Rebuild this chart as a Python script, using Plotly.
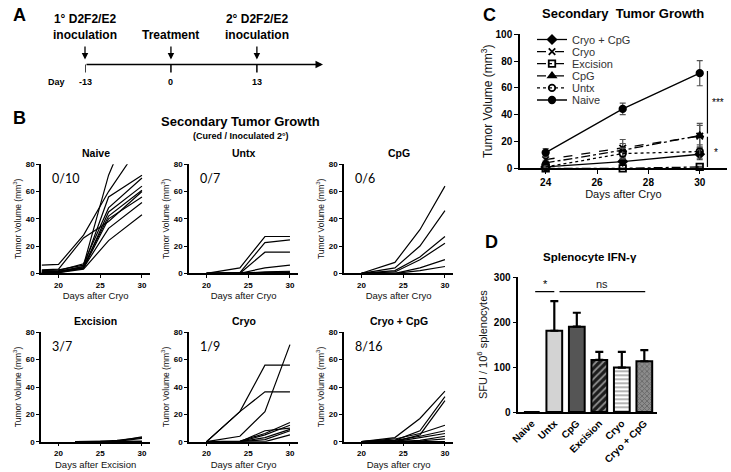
import plotly.graph_objects as go

W, H = 731, 472
FONT = "Liberation Sans"

# ---------------- data ----------------
timeline_days = [-13, 0, 13]
timeline_end = 23
timeline_labels = ["1° D2F2/E2<br>inoculation", "Treatment", "2° D2F2/E2<br>inoculation"]

naive_days = [18, 20, 23, 26, 30]
naive_mice = [
    [6, 6.5, 28, 60, 96],
    [2, 2.5, 6, 72, 130],
    [1, 1.2, 5, 56, 72],
    [1.5, 2, 7, 48, 70],
    [0.5, 1, 4, 45, 64],
    [1, 1.5, 5, 42, 61],
    [0.5, 0.5, 4, 40, 56],
    [2.5, 3, 26, 38, 60],
    [0.5, 1, 4, 33, 52],
    [0.2, 0.5, 3, 24, 43],
]
untx_days = [20, 24, 27, 30]
untx_mice = [
    [0, 4, 27, 27],
    [0, 0.5, 22.5, 24.5],
    [0, 0, 15.5, 15.5],
    [0, 0, 4, 6],
    [0, 0, 1, 1.5],
    [0, 0, 0.5, 1],
    [0, 0, 0, 0.5],
]
cpg_days = [20, 24, 27, 30]
cpg_mice = [
    [0, 8, 32, 64],
    [0, 4, 20, 46],
    [0, 2, 12, 27],
    [0, 1, 10, 22],
    [0, 0, 4, 10],
    [0, 0, 2, 5],
]
excision_days = [22, 25, 27, 30]
excision_mice = [
    [0, 0, 0.5, 3.5],
    [0, 0.2, 1, 3],
    [0, 0, 0.3, 2.5],
    [0, 0, 0, 0.5],
    [0, 0, 0, 0],
    [0, 0, 0, 0],
    [0, 0, 0, 0],
]
cryo_days = [20, 24, 27, 30]
cryo_mice = [
    [0, 22, 56, 56],
    [0, 22, 36.5, 36.5],
    [0, 4, 22, 71],
    [0, 0, 8, 10],
    [0, 0.5, 6, 14],
    [0, 0, 5, 12],
    [0, 0, 3, 9],
    [0, 0, 1.5, 8],
    [0, 0, 0, 5],
]
cryocpg_days = [20, 24, 27, 30]
cryocpg_mice = [
    [0, 3, 17, 37],
    [0, 1, 8, 33],
    [0, 0, 5, 30],
    [0, 2, 6, 12],
    [0, 1, 4, 8],
    [0, 0, 3, 6],
    [0, 0, 1, 4],
    [0, 0, 0.5, 2],
    [0, 0, 0, 0], [0, 0, 0, 0], [0, 0, 0, 0], [0, 0, 0, 0],
    [0, 0, 0, 0], [0, 0, 0, 0], [0, 0, 0, 0], [0, 0, 0, 0],
]
panel_titles = ["Naive", "Untx", "CpG", "Excision", "Cryo", "Cryo + CpG"]
panel_ratios = ["0/10", "0/7", "0/6", "3/7", "1/9", "8/16"]
panel_xtitles = ["Days after Cryo", "Days after Cryo", "Days after Cryo",
                 "Days after Excision", "Days after Cryo", "Days after cryo"]
panel_days = [naive_days, untx_days, cpg_days, excision_days, cryo_days, cryocpg_days]
panel_mice = [naive_mice, untx_mice, cpg_mice, excision_mice, cryo_mice, cryocpg_mice]

# Panel C (mean +/- SEM)
c_days = [24, 27, 30]
c_groups = ["Cryo + CpG", "Cryo", "Excision", "CpG", "Untx", "Naive"]
c_means = [
    [1, 5, 10.5],
    [6.5, 15, 24],
    [0, 0, 1],
    [4, 13.5, 24.5],
    [1, 11, 12.5],
    [11.7, 44.3, 71],
]
c_errs = [
    [1, 2, 4],
    [3, 6.5, 8],
    [0, 0, 0.5],
    [2, 5, 9],
    [0.5, 4, 5],
    [3, 4.3, 9.4],
]
c_symbols = ["diamond", "x-thin", "square-open", "triangle-up", "circle-open", "circle"]
c_dashes = ["solid", "dash", "dashdot", "dashdot", "dot", "solid"]

# Panel D
d_cats = ["Naive", "Untx", "CpG", "Excision", "Cryo", "Cryo + CpG"]
d_vals = [0, 181, 190, 116, 99, 113]
d_errs = [0, 66, 31, 18, 35, 25]


def px_x(p):
    return p / W


def px_y(p):
    return 1 - p / H


def txt(text, x, y, size, bold=False, color="black", family=FONT, **kw):
    d = dict(text=text, xref="paper", yref="paper", x=px_x(x), y=px_y(y),
             xanchor="center", yanchor="middle", showarrow=False,
             font=dict(family=family, size=size, color=color, weight="bold" if bold else "normal"))
    d.update(kw)
    return d


fig = go.Figure()

# ---------------- Panel B small multiples ----------------
col_px = [(41, 150.3), (189, 298.3), (344, 453.3)]
row_px = [(164.3, 273.3), (332.3, 441.7)]
axis_font = dict(family=FONT, size=8, color="black", weight="bold")
annotations = []
shapes = []

for i in range(6):
    n = i + 1
    r, c = divmod(i, 3)
    xs = "" if n == 1 else str(n)
    for m in panel_mice[i]:
        fig.add_trace(go.Scatter(
            x=panel_days[i], y=m, mode="lines",
            line=dict(color="black", width=1.2),
            xaxis="x" + xs, yaxis="y" + xs,
            showlegend=False, hoverinfo="skip"))
    x0, x1 = col_px[c]
    y0, y1 = row_px[r]
    fig.layout["xaxis" + xs] = dict(
        domain=[px_x(x0), px_x(x1)], anchor="y" + xs, range=[17.9, 31], automargin=False,
        tickvals=[20, 25, 30], showline=True, linecolor="black", linewidth=1.5,
        ticks="outside", ticklen=3, tickwidth=1.2, tickcolor="black",
        tickfont=axis_font, showgrid=False, zeroline=False,
        title=dict(text=panel_xtitles[i], font=dict(family=FONT, size=9.5, color="#111"), standoff=4))
    fig.layout["yaxis" + xs] = dict(
        domain=[px_y(y1), px_y(y0)], anchor="x" + xs, range=[0, 80], automargin=False,
        tickvals=[0, 20, 40, 60, 80], showline=True, linecolor="black", linewidth=1.5,
        ticks="outside", ticklen=3, tickwidth=1.2, tickcolor="black",
        tickfont=axis_font, showgrid=False, zeroline=False,
        title=dict(text="Tumor Volume (mm<sup>3</sup>)", font=dict(family=FONT, size=8.5, color="#111"), standoff=3))
    annotations.append(dict(
        text=panel_titles[i], xref="x" + xs + " domain", x=0.5, xanchor="center",
        yref="paper", y=px_y(y0 - 11), yanchor="middle",
        showarrow=False, font=dict(family=FONT, size=10.5, color="black", weight="bold")))
    annotations.append(dict(
        text=panel_ratios[i], xref="x" + xs + " domain", x=0.08, xanchor="left",
        yref="paper", y=px_y(y0 + 14), yanchor="middle", showarrow=False,
        font=dict(family="Lato", size=12.5, color="black")))

annotations += [
    txt("Secondary Tumor Growth", 240, 121.5, 13, bold=True),
    txt("(Cured / Inoculated 2°)", 241, 135.5, 9, bold=True),
]

# ---------------- Panel C ----------------
legend_rows_px = [39.5, 51.6, 63.7, 75.8, 87.9, 100]
legend_layouts = {}
for k, (g, mns, er, sym, dsh) in enumerate(zip(c_groups, c_means, c_errs, c_symbols, c_dashes)):
    lname = "legend" if k == 0 else "legend%d" % (k + 1)
    fig.add_trace(go.Scatter(
        x=c_days, y=mns, name=g, mode="lines+markers", legend=lname,
        line=dict(color="black", width=1.3, dash=dsh),
        marker=dict(symbol=sym, size=6.5, color="black", line=dict(color="black", width=1.8)),
        error_y=dict(type="data", array=er, color="#555", thickness=1.2, width=3),
        xaxis="x7", yaxis="y7", cliponaxis=False))
    legend_layouts[lname] = dict(
        x=px_x(532), y=px_y(legend_rows_px[k]), xanchor="left", yanchor="middle",
        bgcolor="rgba(0,0,0,0)", itemwidth=30, borderwidth=0,
        font=dict(family=FONT, size=11, color="#333"))

fig.layout.xaxis7 = dict(
    domain=[px_x(520), px_x(726.7)], anchor="y7", range=[23, 31.05], automargin=False,
    tickvals=[24, 26, 28, 30], showline=True, linecolor="black", linewidth=1.5,
    ticks="outside", ticklen=4, tickwidth=1.3, tickcolor="black",
    tickfont=dict(family=FONT, size=10, color="black", weight="bold"),
    showgrid=False, zeroline=False,
    title=dict(text="Days after Cryo", font=dict(family=FONT, size=11, color="#111"), standoff=2))
fig.layout.yaxis7 = dict(
    domain=[px_y(168.3), px_y(34.3)], anchor="x7", range=[0, 100], automargin=False,
    tickvals=[0, 20, 40, 60, 80, 100], showline=True, linecolor="black", linewidth=1.5,
    ticks="outside", ticklen=4, tickwidth=1.3, tickcolor="black",
    tickfont=dict(family=FONT, size=10, color="black", weight="bold"),
    showgrid=False, zeroline=False,
    title=dict(text="Tumor Volume (mm<sup>3</sup>)", font=dict(family=FONT, size=12, color="#111"), standoff=0))

shapes += [
    dict(type="line", xref="x7", yref="y7", x0=30.3, x1=30.3, y0=26, y1=72.6,
         line=dict(color="black", width=1.2)),
    dict(type="line", xref="x7", yref="y7", x0=30.3, x1=30.3, y0=1, y1=23.6,
         line=dict(color="black", width=1.2)),
]
annotations += [
    dict(text="***", xref="x7", yref="y7", x=30.7, y=49, xanchor="center", yanchor="middle",
         showarrow=False, font=dict(family=FONT, size=10, color="black")),
    dict(text="*", xref="x7", yref="y7", x=30.62, y=11.5, xanchor="center", yanchor="middle",
         showarrow=False, font=dict(family=FONT, size=10, color="black")),
    txt("Secondary  Tumor Growth", 623, 13.5, 13, bold=True),
]

# ---------------- Panel D ----------------
fig.add_trace(go.Bar(
    x=d_cats, y=d_vals, width=0.7,
    marker=dict(
        color=["white", "#d3d3d3", "#555555", "#1c1c1c", "white", "#8c8c8c"],
        line=dict(color="black", width=2),
        pattern=dict(
            shape=["", "", "", "/", "-", "x"],
            fgcolor=["black", "black", "black", "white", "black", "#000000"],
            size=[5, 5, 5, 5, 4, 3.5], solidity=[0.3, 0.3, 0.3, 0.35, 0.4, 0.45],
            fillmode="overlay")),
    error_y=dict(type="data", array=d_errs, arrayminus=[0] * 6, symmetric=False,
                 color="black", thickness=2.2, width=4),
    xaxis="x8", yaxis="y8", showlegend=False, hoverinfo="skip"))

fig.layout.xaxis8 = dict(
    domain=[px_x(518.3), px_x(656.7)], anchor="y8", type="category", range=[-0.6, 5.55],
    automargin=False,
    showline=True, linecolor="black", linewidth=1.5, ticks="", tickangle=-45,
    tickfont=dict(family=FONT, size=10, color="black", weight="bold"),
    showgrid=False, zeroline=False)
fig.layout.yaxis8 = dict(
    domain=[px_y(412), px_y(277.3)], anchor="x8", range=[0, 300], automargin=False,
    tickvals=[0, 100, 200, 300], showline=True, linecolor="black", linewidth=1.5,
    ticks="outside", ticklen=4, tickwidth=1.3, tickcolor="black",
    tickfont=dict(family=FONT, size=10, color="black", weight="bold"),
    showgrid=False, zeroline=False,
    title=dict(text="SFU / 10<sup>6</sup> splenocytes", font=dict(family=FONT, size=11, color="#111"), standoff=4))

shapes += [
    dict(type="line", xref="x8", yref="y8", x0=0.15, x1=1.0, y0=268, y1=268,
         line=dict(color="black", width=1.3)),
    dict(type="line", xref="x8", yref="y8", x0=1.23, x1=5.04, y0=268, y1=268,
         line=dict(color="black", width=1.3)),
]
annotations += [
    dict(text="*", xref="x8", yref="y8", x=0.6, y=268, xanchor="center", yanchor="bottom",
         showarrow=False, font=dict(family=FONT, size=11, color="black")),
    dict(text="ns", xref="x8", yref="y8", x=3.1, y=268, xanchor="center", yanchor="bottom",
         showarrow=False, font=dict(family=FONT, size=11, color="#222")),
    txt("Splenocyte IFN-γ", 590, 257, 11.5, bold=True),
]

# ---------------- Panel A timeline ----------------
fig.layout.xaxis9 = dict(domain=[px_x(85), px_x(323)], anchor="y9", range=[-13, timeline_end],
                         visible=False, fixedrange=True, automargin=False)
fig.layout.yaxis9 = dict(domain=[px_y(100), 1], anchor="x9", range=[100, 0],
                         visible=False, fixedrange=True, automargin=False)
LINE_Y = 64.5
annotations.append(dict(x=timeline_end, y=LINE_Y, ax=timeline_days[0], ay=LINE_Y,
                        xref="x9", yref="y9", axref="x9", ayref="y9", text="",
                        showarrow=True, arrowhead=2, arrowsize=1, arrowwidth=1.5, arrowcolor="black"))
for d, lab in zip(timeline_days, timeline_labels):
    shapes.append(dict(type="line", xref="x9", yref="y9", x0=d, x1=d, y0=LINE_Y, y1=72.5,
                       line=dict(color="black", width=1.5)))
    annotations.append(dict(x=d, y=59.5, ax=d, ay=45, xref="x9", yref="y9", axref="x9", ayref="y9",
                            text="", showarrow=True, arrowhead=2, arrowsize=1, arrowwidth=1.3,
                            arrowcolor="black"))
    annotations.append(dict(x=d, y=44, xref="x9", yref="y9", text=lab, xanchor="center",
                            yanchor="bottom", showarrow=False,
                            font=dict(family=FONT, size=12, color="black", weight="bold")))
    annotations.append(dict(x=d, y=82, xref="x9", yref="y9", text=str(d), xanchor="center",
                            yanchor="middle", showarrow=False,
                            font=dict(family=FONT, size=9, color="black", weight="bold")))
annotations.append(txt("Day", 56, 82, 9, bold=True))

# panel letters
for letter, lx, ly in [("A", 19, 15), ("B", 19, 118), ("C", 489, 15), ("D", 491, 242)]:
    annotations.append(txt(letter, lx, ly, 18, bold=True))

fig.update_layout(
    template="none",
    width=W, height=H, margin=dict(l=0, r=0, t=0, b=0, autoexpand=False),
    paper_bgcolor="white", plot_bgcolor="white",
    annotations=annotations, shapes=shapes,
    font=dict(family=FONT, color="black"),
    **legend_layouts,
)

fig.write_html("out.html", config={"displayModeBar": False},
               post_script="document.body.style.margin='0';")
